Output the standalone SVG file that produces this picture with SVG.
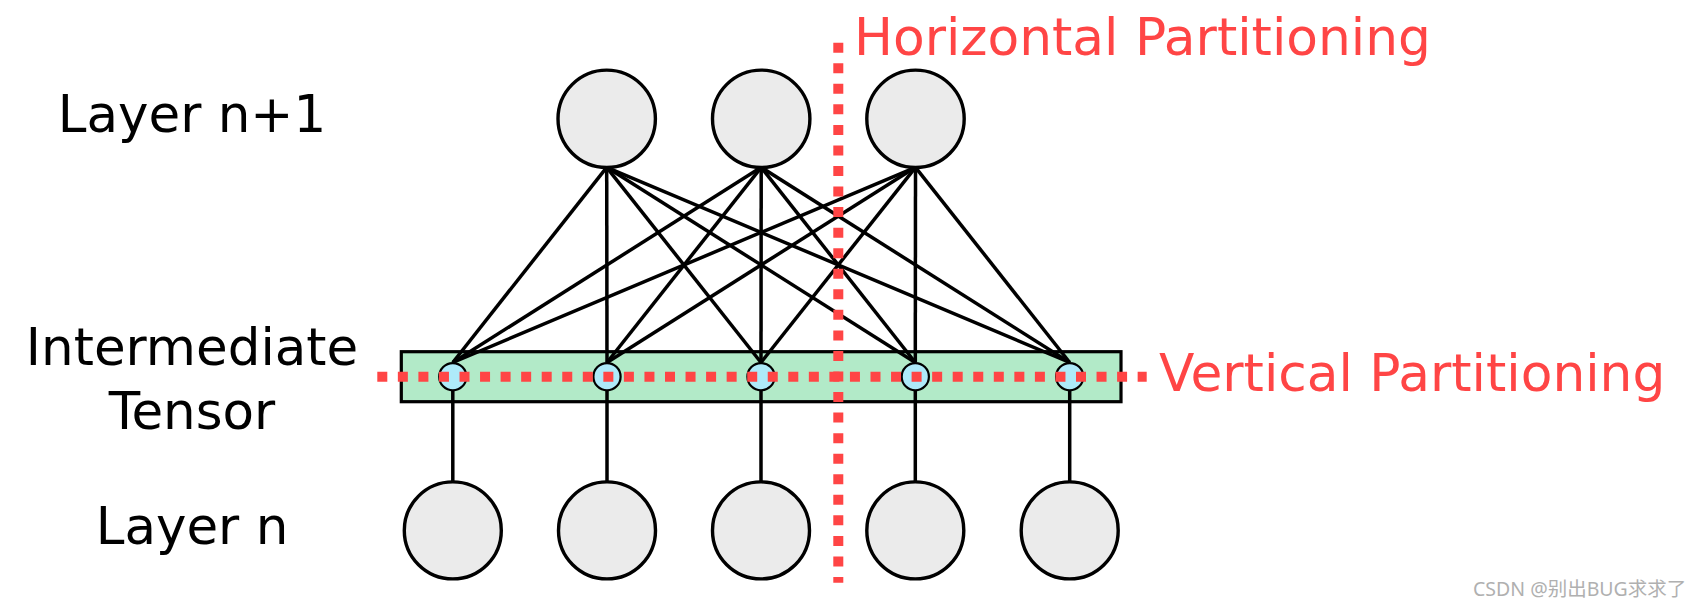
<svg xmlns="http://www.w3.org/2000/svg" width="1698" height="610" viewBox="0 0 1698 610">
  <style>
    .label { font-family: "DejaVu Sans", Verdana, sans-serif; font-size: 51.5px; fill: #000; text-anchor: middle; }
    .part { font-family: "DejaVu Sans", Verdana, sans-serif; font-size: 51.8px; fill: #ff4545; }
    .neuron { fill: #ebebeb; stroke: #000; stroke-width: 3.4; }
    .elem { fill: #aeeaf9; stroke: #000; stroke-width: 2.2; }
    .tensor { fill: #b2eac8; stroke: #000; stroke-width: 3.2; }
    .edge { stroke: #000; stroke-width: 3.5; fill: none; }
    .cut { stroke: #ff4545; stroke-width: 10; stroke-dasharray: 10 10.55; fill: none; }
    .mark { font-family: "Noto Sans", "Noto Sans CJK SC", sans-serif; font-size: 19.5px; fill: #b0b0b0; }
  </style>

  <!-- row labels -->
  <g id="labels">
    <text class="label" x="192" y="132">Layer n+1</text>
    <text class="label" x="192" y="365">Intermediate</text>
    <text class="label" x="192" y="429">Tensor</text>
    <text class="label" x="192" y="544">Layer n</text>
  </g>

  <!-- intermediate tensor bar -->
  <g id="tensor">
    <rect class="tensor" x="401.3" y="351.7" width="719.7" height="50"/>
  </g>

  <!-- connectors -->
  <g id="connectors">
    <!-- layer n+1 to tensor elements -->
    <line class="edge" x1="606.7" y1="167.3" x2="452.8" y2="362.5"/>
    <line class="edge" x1="606.7" y1="167.3" x2="607" y2="362.5"/>
    <line class="edge" x1="606.7" y1="167.3" x2="761" y2="362.5"/>
    <line class="edge" x1="606.7" y1="167.3" x2="915.3" y2="362.5"/>
    <line class="edge" x1="606.7" y1="167.3" x2="1069.7" y2="362.5"/>
    <line class="edge" x1="761.2" y1="167.3" x2="452.8" y2="362.5"/>
    <line class="edge" x1="761.2" y1="167.3" x2="607" y2="362.5"/>
    <line class="edge" x1="761.2" y1="167.3" x2="761" y2="362.5"/>
    <line class="edge" x1="761.2" y1="167.3" x2="915.3" y2="362.5"/>
    <line class="edge" x1="761.2" y1="167.3" x2="1069.7" y2="362.5"/>
    <line class="edge" x1="915.5" y1="167.3" x2="452.8" y2="362.5"/>
    <line class="edge" x1="915.5" y1="167.3" x2="607" y2="362.5"/>
    <line class="edge" x1="915.5" y1="167.3" x2="761" y2="362.5"/>
    <line class="edge" x1="915.5" y1="167.3" x2="915.3" y2="362.5"/>
    <line class="edge" x1="915.5" y1="167.3" x2="1069.7" y2="362.5"/>
    <!-- layer n to tensor elements -->
    <line class="edge" x1="452.8" y1="390" x2="452.8" y2="482"/>
    <line class="edge" x1="607" y1="390" x2="607" y2="482"/>
    <line class="edge" x1="761" y1="390" x2="761" y2="482"/>
    <line class="edge" x1="915.3" y1="390" x2="915.3" y2="482"/>
    <line class="edge" x1="1069.7" y1="390" x2="1069.7" y2="482"/>
  </g>

  <!-- layer n+1 -->
  <g id="layer-n1-0"><circle class="neuron" cx="606.7" cy="118.8" r="48.7"/></g>
  <g id="layer-n1-1"><circle class="neuron" cx="761.2" cy="118.8" r="48.7"/></g>
  <g id="layer-n1-2"><circle class="neuron" cx="915.5" cy="118.8" r="48.7"/></g>

  <!-- tensor elements -->
  <g id="elem-0"><circle class="elem" cx="452.8" cy="376.7" r="13.6"/></g>
  <g id="elem-1"><circle class="elem" cx="607" cy="376.7" r="13.6"/></g>
  <g id="elem-2"><circle class="elem" cx="761" cy="376.7" r="13.6"/></g>
  <g id="elem-3"><circle class="elem" cx="915.3" cy="376.7" r="13.6"/></g>
  <g id="elem-4"><circle class="elem" cx="1069.7" cy="376.7" r="13.6"/></g>

  <!-- layer n -->
  <g id="layer-n-0"><circle class="neuron" cx="452.8" cy="530.4" r="48.5"/></g>
  <g id="layer-n-1"><circle class="neuron" cx="607" cy="530.4" r="48.5"/></g>
  <g id="layer-n-2"><circle class="neuron" cx="761" cy="530.4" r="48.5"/></g>
  <g id="layer-n-3"><circle class="neuron" cx="915.3" cy="530.4" r="48.5"/></g>
  <g id="layer-n-4"><circle class="neuron" cx="1069.7" cy="530.4" r="48.5"/></g>

  <!-- partition cuts -->
  <g id="partitions">
    <line class="cut" x1="838.3" y1="42.7" x2="838.3" y2="582.7"/>
    <line class="cut" x1="377.3" y1="376.7" x2="1146.7" y2="376.7"/>
    <text class="part" x="854" y="55">Horizontal Partitioning</text>
    <text class="part" x="1159" y="391">Vertical Partitioning</text>
  </g>

  <text class="mark" x="1473" y="596">CSDN @别出BUG求求了</text>
</svg>
